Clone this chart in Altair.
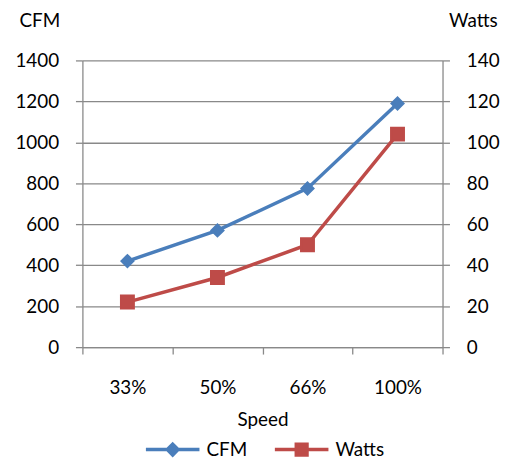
import altair as alt
import pandas as pd

speeds = ["33%", "50%", "66%", "100%"]
cfm = [420, 570, 775, 1190]
watts = [22, 34, 50, 104]
series_names = ["CFM", "Watts"]
cfm_ticks = [0, 200, 400, 600, 800, 1000, 1200, 1400]
watt_ticks = [0, 20, 40, 60, 80, 100, 120, 140]
colors = ["#4A7EBB", "#BE4B48"]

df_cfm = pd.DataFrame({"speed": speeds, "value": cfm, "series": series_names[0]})
df_w = pd.DataFrame({"speed": speeds, "value": watts, "series": series_names[1]})

FONT = "Lato"
GRID = "#898989"
FS = 19

x = alt.X(
    "speed:N", sort=speeds, title="Speed",
    scale=alt.Scale(type="band", paddingInner=0, paddingOuter=0),
    axis=alt.Axis(labelAngle=0, tickBand="extent", tickSize=7, labelPadding=25,
                  titlePadding=13, grid=False),
)

y_left = alt.Y(
    "value:Q", scale=alt.Scale(domain=[0, 1400], nice=False, zero=True),
    axis=alt.Axis(orient="left", values=cfm_ticks, format="d", title="CFM", titleAngle=0,
                  titleX=-64, titleY=-34, titleAlign="left", titleBaseline="alphabetic",
                  grid=True, tickSize=7, labelPadding=17),
)
y_right = alt.Y(
    "value:Q", scale=alt.Scale(domain=[0, 140], nice=False, zero=True),
    axis=alt.Axis(orient="right", values=watt_ticks, format="d", title="Watts", titleAngle=0,
                  titleX=6, titleY=-34, titleAlign="left", titleBaseline="alphabetic",
                  grid=False, tickSize=7, labelPadding=17),
)

shape_expr = ("datum.value == 'CFM' ? 'M-1,0H1M0,-0.2L0.2,0L0,0.2L-0.2,0Z' "
              ": 'M-1,0H1M-0.2,-0.2H0.2V0.2H-0.2Z'")

legend = alt.Legend(
    title=None, orient="none", legendX=62, legendY=363, direction="horizontal",
    symbolType=alt.ExprRef(shape_expr), symbolSize=2916, symbolStrokeWidth=3.5,
    labelFontSize=FS, labelFont=FONT, labelColor="#000000", labelOffset=5,
    columnPadding=20,
)
series_scale = alt.Scale(domain=series_names, range=colors)

def layer_for(df, y, color, shape, size):
    line = alt.Chart(df).mark_line(strokeWidth=3.5, color=color).encode(x=x, y=y)
    pts = alt.Chart(df).mark_point(filled=True, shape=shape, size=size, opacity=1).encode(
        x=x, y=y,
        fill=alt.Fill("series:N", scale=series_scale, legend=legend),
        stroke=alt.Stroke("series:N", scale=series_scale, legend=legend),
    )
    return line + pts

left = layer_for(df_cfm, y_left, colors[0], "diamond", 150)
right = layer_for(df_w, y_right, colors[1], "square", 170)

chart = alt.layer(left, right).resolve_scale(y="independent").properties(
    width=363, height=289, padding={"left": 6, "top": 2, "right": 8, "bottom": 4},
).configure_view(stroke=None).configure_axis(
    labelFont=FONT, titleFont=FONT, labelFontSize=FS, titleFontSize=FS,
    titleFontWeight="normal", labelColor="#000000", titleColor="#000000",
    domainColor=GRID, tickColor=GRID, gridColor=GRID, domainWidth=1.3,
    tickWidth=1.3, gridWidth=1.3,
)

chart.save("out.html", embed_options={"renderer": "svg", "actions": False})
